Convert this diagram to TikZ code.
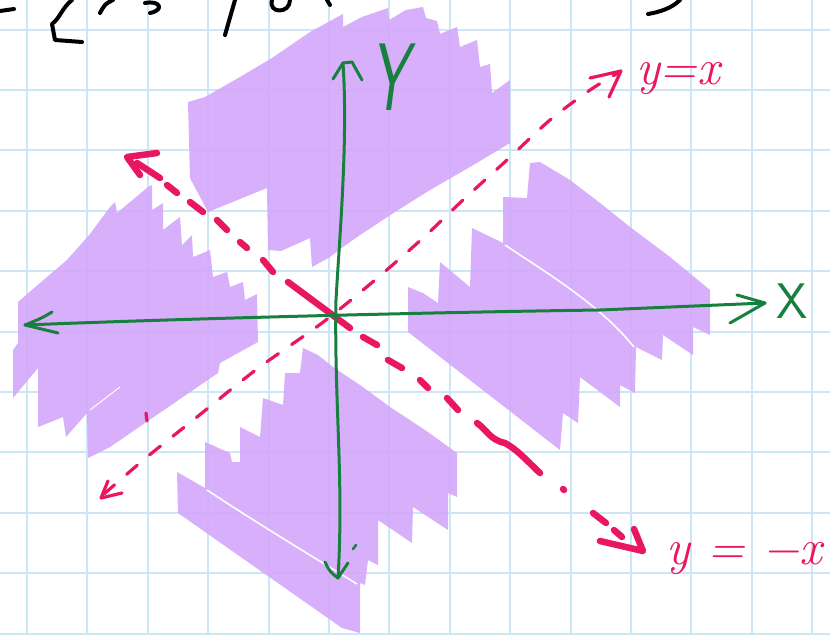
\documentclass[tikz,border=0pt]{standalone}
\usepackage{fontspec}
\definecolor{gridblue}{RGB}{204,230,245}
\definecolor{lilac}{RGB}{211,167,250}
\definecolor{pen}{RGB}{233,22,98}
\definecolor{axisgreen}{RGB}{24,128,62}
\tikzset{
  region/.style={fill=lilac, fill opacity=0.9},
  gap/.style={draw=white, line width=1.6pt},
  gridline/.style={draw=gridblue, line width=2pt},
  axisline/.style={draw=axisgreen, line width=3pt, line cap=round, line join=round},
  thinpen/.style={draw=pen, line width=3.2pt, line cap=round, line join=round},
  thickpen/.style={draw=pen, line width=6.5pt, line cap=round, line join=round},
  ink/.style={draw=black, line width=4pt, line cap=round, line join=round},
  hand/.style={inner sep=0pt, outer sep=0pt}
}
\begin{document}
\begin{tikzpicture}[x=1pt,y=-1pt]
\useasboundingbox (0,0) rectangle (830,635);
\fill[white] (0,0) rectangle (830,635);
% grid paper
\foreach \i in {0,...,13} \draw[gridline] ({27+60.4*\i},0) -- ({27+60.4*\i},635);
\foreach \j in {0,...,10} \draw[gridline] (0,{29.6+60.4*\j}) -- (830,{29.6+60.4*\j});

% cut-off handwriting at the top
\draw[ink] (0,11) -- (14,9);
\draw[ink] (72,0) .. controls (62,8) and (60,18) .. (52,24) -- (55,40) -- (82,42);
\draw[ink] (113,0) .. controls (105,4) .. (100,13);
\draw[ink] (145,3) .. controls (160,0) and (165,10) .. (150,13);
\draw[ink] (235,0) -- (225,35);
\draw[ink] (272,0) .. controls (268,14) and (290,14) .. (290,0);
\draw[ink] (327,0) -- (330,5);
\draw[ink] (648,14) .. controls (660,12) and (672,8) .. (680,0);

% shaded regions
\fill[region] (188,102) -- (205,97) -- (240,77) -- (272,58) -- (310,32) -- (343,14) -- (343,27) -- (362,17) -- (388,8) -- (389,20) -- (406,10) -- (423,7) -- (426,18) -- (437,21) -- (440,34) -- (457,27) -- (460,47) -- (477,40) -- (480,67) -- (490,64) -- (492,93) -- (510,80) -- (510,143) -- (470,167) -- (430,190) -- (395,212) -- (360,235) -- (343,247) -- (330,257) -- (312,267) -- (310,238) -- (281,251) -- (268,250) -- (267,188) -- (208,212) -- (190,178) -- cycle;
\fill[region] (503,197) -- (527,198) -- (530,163) -- (540,162) -- (570,180) -- (600,203) -- (630,227) -- (670,257) -- (710,290) -- (710,335) -- (693,327) -- (693,355) -- (663,335) -- (662,360) -- (636,347) -- (635,393) -- (620,385) -- (620,407) -- (580,377) -- (578,423) -- (563,413) -- (560,450) -- (408,332) -- (408,287) -- (423,293) -- (438,303) -- (440,262) -- (470,287) -- (472,228) -- (503,243) -- cycle;
\fill[region] (18,302) -- (40,283) -- (67,260) -- (90,234) -- (110,207) -- (115,202) -- (117,213) -- (148,187) -- (152,185) -- (152,210) -- (163,203) -- (163,230) -- (180,217) -- (182,245) -- (192,235) -- (193,257) -- (210,250) -- (213,277) -- (227,272) -- (230,287) -- (243,282) -- (245,300) -- (257,294) -- (258,342) -- (220,363) -- (218,373) -- (110,447) -- (88,458) -- (87,413) -- (66,437) -- (63,417) -- (38,427) -- (38,368) -- (13,398) -- (13,350) -- (18,343) -- cycle;
\fill[region] (303,348) -- (318,355) -- (333,367) -- (360,385) -- (390,407) -- (425,430) -- (457,453) -- (457,497) -- (448,493) -- (448,530) -- (413,507) -- (412,543) -- (378,520) -- (378,565) -- (368,560) -- (365,585) -- (360,583) -- (360,633) -- (342,628) -- (178,513) -- (177,472) -- (205,488) -- (205,442) -- (230,453) -- (232,462) -- (240,462) -- (240,427) -- (260,437) -- (263,398) -- (283,405) -- (285,373) -- (300,373) -- cycle;
\draw[gap] (505,245) .. controls (550,275) and (600,305) .. (634,347);
\draw[gap] (207,490) .. controls (260,525) and (310,555) .. (357,584);
\draw[gap, line width=1pt] (90,410) -- (120,387);

% line y = x (thin dashes)
\draw[thinpen, dash pattern=on 14pt off 16pt] plot[smooth] coordinates {(104,494) (147,457) (197,417) (257,369) (322,323) (375,280) (423,238) (463,200) (507,160) (550,120) (590,90) (618,73)};
\draw[thinpen] (108,481) -- (101,498) -- (122,493);
\draw[thinpen] (590,78) -- (621,71) -- (609,97);
\draw[thinpen] (146,413) -- (147,421);

% line y = -x (thick dash-dot)
\draw[thickpen] (137,163) -- (160,178) (167,185) -- (177,193) (190,202) -- (203,212) (217,220) -- (227,230) (240,242) -- (247,248) (263,260) -- (273,272) (288,282) -- (350,328) (363,337) -- (377,345) (388,360) -- (402,368) (420,380) -- (428,388) (447,398) -- (458,410) (593,513) -- (606,523) (614,530) -- (622,537);
\draw[thickpen] (477,423) .. controls (487,430) and (490,440) .. (505,443) .. controls (518,450) and (528,462) .. (540,473);
\draw[thickpen] (563,489) -- (564,490);
\draw[thickpen] (157,153) -- (127,157) -- (140,175);
\draw[thickpen] (600,541) -- (643,551) -- (634,529);

% axes
\coordinate (xleft) at (25,325);
\coordinate (xright) at (765,303);
\coordinate (ytop) at (343,63);
\coordinate (ybottom) at (338,578);
\draw[axisline] (xleft) .. controls (200,318) and (450,312) .. (600,310) -- (xright);
\draw[axisline] (52,312) .. controls (42,318) .. (xleft) -- (58,333);
\draw[axisline] (737,295) -- (xright) -- (730,323);
\draw[axisline] (ytop) .. controls (348,140) and (340,230) .. (336,300) .. controls (334,400) and (344,480) .. (ybottom);
\draw[axisline] (333,79) -- (ytop) -- (352,62) -- (362,80);
\draw[axisline] (325,562) .. controls (330,572) .. (ybottom) -- (348,563);
\draw[axisline, line width=2.5pt] (353,549) -- (356,545);

% labels
\node[hand, text=axisgreen, anchor=center] (ylab) at (389,77) {\fontsize{96}{96}\selectfont\sffamily\itshape\scalebox{0.62}[1]{Y}};
\node[hand, text=axisgreen, anchor=center] (xlab) at (792,301) {\fontsize{50}{50}\selectfont\sffamily X};
\node[hand, text=pen, anchor=base west] (labyx) at (636,84) {\fontsize{50}{50}\selectfont\itshape y=x};
\node[hand, text=pen, anchor=base west] (labymx) at (666,564) {\fontsize{50}{50}\selectfont\itshape y = −x};
\end{tikzpicture}
\end{document}
